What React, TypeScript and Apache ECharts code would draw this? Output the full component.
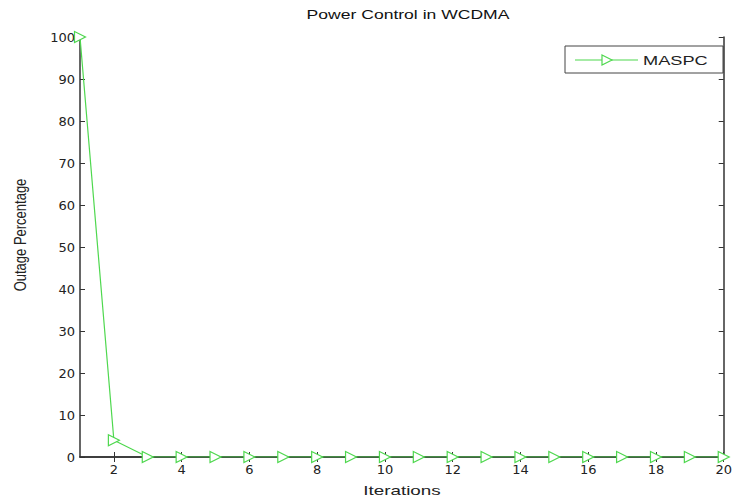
import React, { useEffect, useRef } from "react";
import * as echarts from "echarts";

const iterations = [1, 2, 3, 4, 5, 6, 7, 8, 9, 10, 11, 12, 13, 14, 15, 16, 17, 18, 19, 20];
const outage = [100, 4, 0, 0, 0, 0, 0, 0, 0, 0, 0, 0, 0, 0, 0, 0, 0, 0, 0, 0];
const xTicks = [2, 4, 6, 8, 10, 12, 14, 16, 18, 20];
const seriesName = "MASPC";
const titleText = "Power Control in WCDMA";
const xName = "Iterations";
const yName = "Outage Percentage";

export default function App() {
  const ref = useRef<HTMLDivElement>(null);
  useEffect(() => {
    if (!ref.current) return;
    const chart = echarts.init(ref.current, null, { renderer: "svg" });
    const tickFont = "'DejaVu Sans', Arial, sans-serif";
    const green = "#4fd84f";
    const axisColor = "#333";
    const data = iterations.map((x, i) => [x, outage[i]]);
    chart.setOption({
      animation: false,
      backgroundColor: "#ffffff",
      grid: { left: 80, right: 5, top: 37, bottom: 43, containLabel: false },
      xAxis: [
        {
          type: "value",
          min: 1,
          max: 20,
          axisLine: { show: true, lineStyle: { color: axisColor, width: 1.5 } },
          axisTick: { show: true, inside: true, length: 5, lineStyle: { color: axisColor }, customValues: xTicks },
          axisLabel: { fontSize: 13, color: "#222", fontFamily: tickFont, margin: 6, customValues: xTicks },
          splitLine: { show: false },
        },
        {
          type: "value",
          position: "top",
          min: 1,
          max: 20,
          axisLine: { show: true, lineStyle: { color: axisColor, width: 1.5 } },
          axisTick: { show: true, inside: true, length: 5, lineStyle: { color: axisColor }, customValues: xTicks },
          axisLabel: { show: false },
          splitLine: { show: false },
        },
      ],
      yAxis: [
        {
          type: "value",
          min: 0,
          max: 100,
          interval: 10,
          axisLine: { show: true, lineStyle: { color: axisColor, width: 1.5 } },
          axisTick: { show: true, inside: true, length: 5, lineStyle: { color: axisColor } },
          axisLabel: { fontSize: 13, color: "#222", fontFamily: tickFont, margin: 5 },
          splitLine: { show: false },
        },
        {
          type: "value",
          position: "right",
          min: 0,
          max: 100,
          interval: 10,
          axisLine: { show: true, lineStyle: { color: axisColor, width: 1.5 } },
          axisTick: { show: true, inside: true, length: 5, lineStyle: { color: axisColor } },
          axisLabel: { show: false },
          splitLine: { show: false },
        },
      ],
      graphic: [
        {
          type: "text",
          x: 408,
          y: 14,
          scaleX: 1.35,
          style: {
            text: titleText,
            font: "13px Arial, 'Liberation Sans', sans-serif",
            fill: "#111",
            textAlign: "center",
            textVerticalAlign: "middle",
          },
        },
        {
          type: "text",
          x: 402,
          y: 490,
          scaleX: 1.45,
          style: {
            text: xName,
            font: "13px Arial, 'Liberation Sans', sans-serif",
            fill: "#222",
            textAlign: "center",
            textVerticalAlign: "middle",
          },
        },
        {
          type: "text",
          x: 20,
          y: 235,
          rotation: Math.PI / 2,
          scaleY: 1.3,
          style: {
            text: yName,
            font: "13px Arial, 'Liberation Sans', sans-serif",
            fill: "#222",
            textAlign: "center",
            textVerticalAlign: "middle",
          },
        },
        {
          type: "group",
          children: [
            {
              type: "rect",
              shape: { x: 565, y: 46, width: 158, height: 27 },
              style: { fill: "#fff", stroke: "#444", lineWidth: 1 },
            },
            {
              type: "line",
              shape: { x1: 575, y1: 60, x2: 638, y2: 60 },
              style: { stroke: green, lineWidth: 1.2 },
            },
            {
              type: "polygon",
              shape: { points: [[602, 55], [612, 60], [602, 65]] },
              style: { fill: "#fff", stroke: green, lineWidth: 1.2 },
            },
            {
              type: "text",
              x: 643,
              y: 60,
              scaleX: 1.4,
              style: {
                text: seriesName,
                font: "13px Arial, 'Liberation Sans', sans-serif",
                fill: "#222",
                textAlign: "left",
                textVerticalAlign: "middle",
              },
            },
          ],
        },
      ],
      series: [
        {
          name: seriesName,
          type: "line",
          data,
          xAxisIndex: 0,
          yAxisIndex: 0,
          symbol: "path://M0,0 L10,5 L0,10 Z",
          symbolSize: [11, 11],
          showAllSymbol: true,
          lineStyle: { color: green, width: 1.2 },
          itemStyle: { color: "#ffffff", borderColor: green, borderWidth: 1.2 },
          emphasis: { disabled: true },
        },
      ],
    });
    return () => chart.dispose();
  }, []);
  return <div ref={ref} style={{ width: 735, height: 500, position: "absolute", left: 0, top: 0 }} />;
}
